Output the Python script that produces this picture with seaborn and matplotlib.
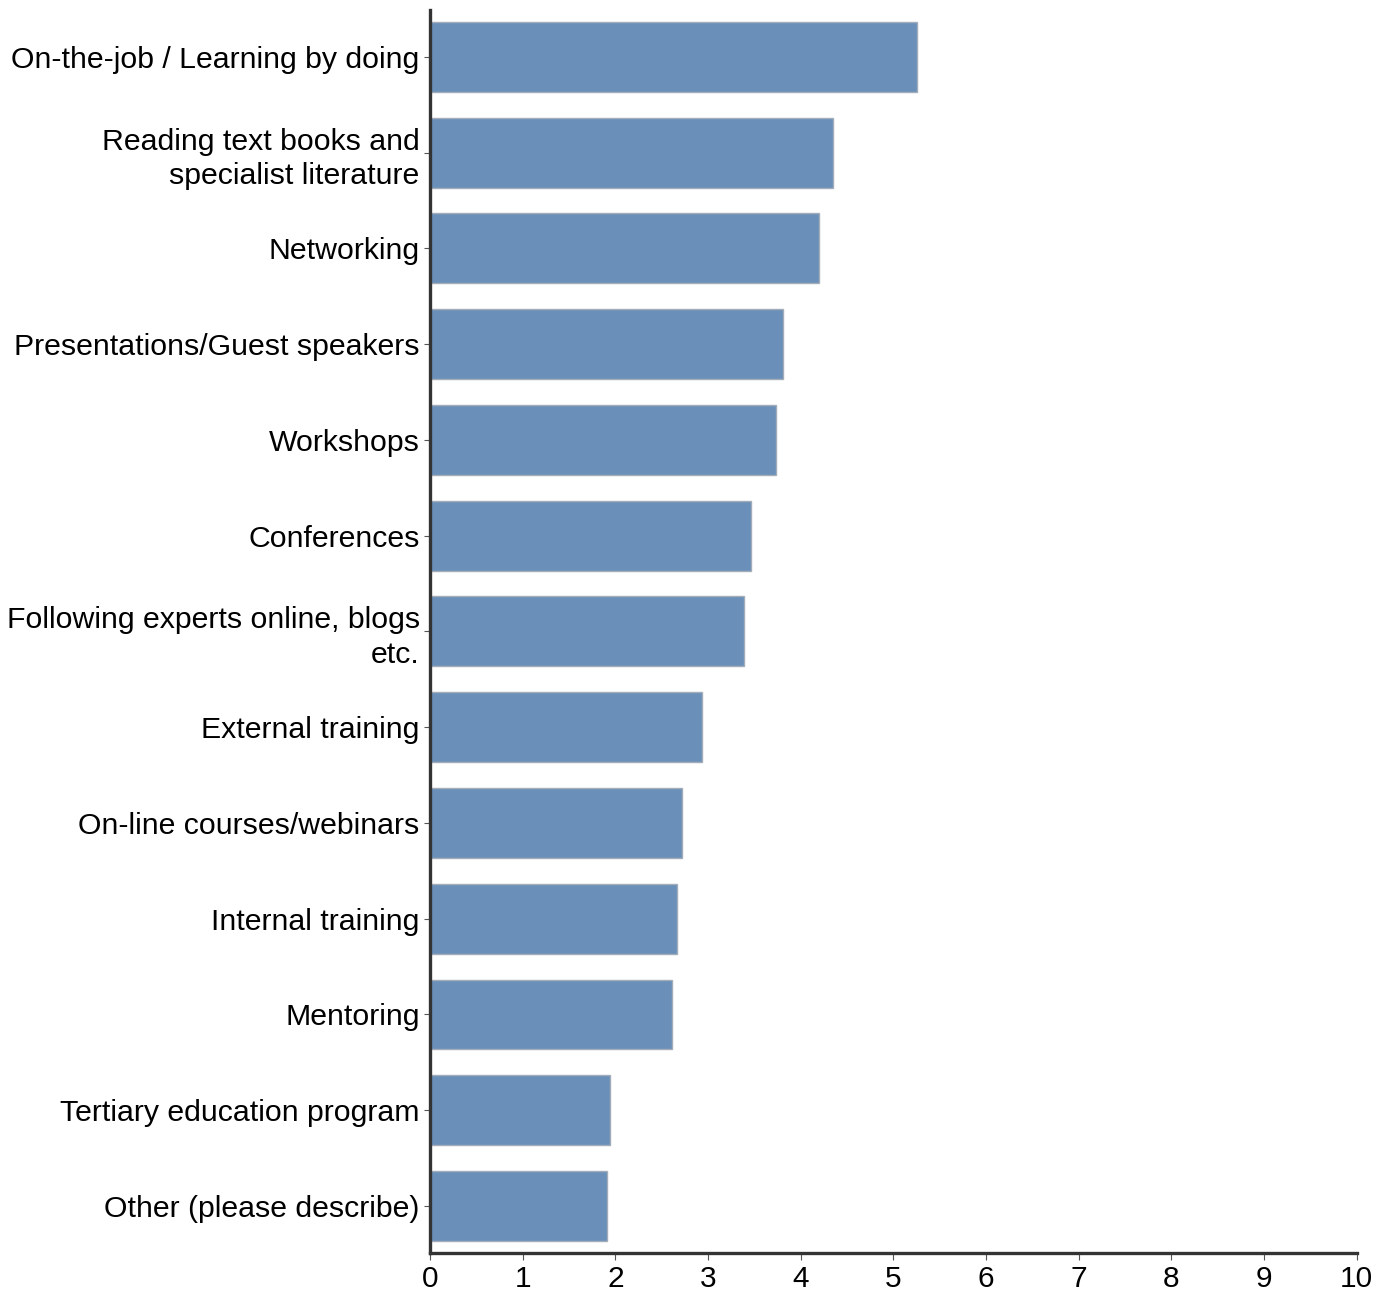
import matplotlib
matplotlib.use("Agg")
import matplotlib.pyplot as plt
import seaborn as sns
import pandas as pd

# Learning methods and their average ratings
methods = [
    "On-the-job / Learning by doing",
    "Reading text books and\nspecialist literature",
    "Networking",
    "Presentations/Guest speakers",
    "Workshops",
    "Conferences",
    "Following experts online, blogs\netc.",
    "External training",
    "On-line courses/webinars",
    "Internal training",
    "Mentoring",
    "Tertiary education program",
    "Other (please describe)",
]
scores = [5.26, 4.35, 4.20, 3.81, 3.73, 3.46, 3.39, 2.93, 2.72, 2.66, 2.61, 1.94, 1.91]
x_ticks = [0, 1, 2, 3, 4, 5, 6, 7, 8, 9, 10]

df = pd.DataFrame({"method": methods, "score": scores})

sns.set_style("white")
plt.rcParams["font.family"] = ["Liberation Sans", "DejaVu Sans"]

fig = plt.figure(figsize=(13.94, 12.93), dpi=100)
ax = fig.add_axes([0.3085, 0.031, 0.6647, 0.9613])

sns.barplot(
    data=df, x="score", y="method", orient="h",
    color="#6a8fb9", edgecolor="#a3adb9", linewidth=1.0,
    width=0.73, saturation=1, ax=ax,
)

ax.set_xlim(0, 10)
ax.set_ylim(12.49, -0.49)
ax.set_xticks(x_ticks)
ax.set_xticklabels([str(t) for t in x_ticks])
ax.set_xlabel("")
ax.set_ylabel("")

for side in ("top", "right"):
    ax.spines[side].set_visible(False)
for side in ("left", "bottom"):
    ax.spines[side].set_color("#333333")
    ax.spines[side].set_linewidth(2.4)

ax.tick_params(axis="y", which="major", left=True, length=4, width=0.8,
               color="#555555", pad=3.5, labelsize=21.8, labelcolor="black")
ax.tick_params(axis="x", which="major", bottom=True, length=5, width=0.8,
               color="#555555", pad=4, labelsize=21.5, labelcolor="black")
for lbl in ax.get_yticklabels():
    lbl.set_horizontalalignment("right")
    lbl.set_multialignment("right")
    lbl.set_linespacing(1.3)

fig.savefig("out.png", dpi=100, facecolor="white")
